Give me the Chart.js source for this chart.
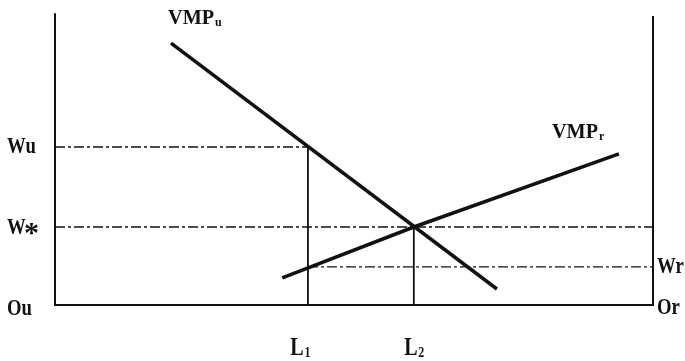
<!DOCTYPE html>
<html>
<head>
<meta charset="utf-8">
<script src="https://cdn.jsdelivr.net/npm/chart.js@4.4.1/dist/chart.umd.min.js"></script>
<style>
  html, body { margin: 0; padding: 0; background: #fff; }
  #wrap { width: 685px; height: 361px; }
</style>
</head>
<body>
<div id="wrap"><canvas id="chart" width="685" height="361"></canvas></div>
<script>
// labour market levels (arbitrary units, 0-100 between the two origins)
const wageLevels = { Wu: 54.3, Wstar: 26.8, Wr: 13.1 };
const labourLevels = { L1: 42.3, L2: 60 };

// curves
const vmpU = [
    { x: 19.4, y: 90.0 },
    { x: 73.9, y: 5.5 }
];
const vmpR = [
    { x: 38.0, y: 9.3 },
    { x: 60.0, y: 26.8 },
    { x: 94.3, y: 51.9 }
];

// frame: left axis (Ou), bottom, right axis (Or)
const frame = [
    { x: 0, y: 100.3 },
    { x: 0, y: 0 },
    { x: 100, y: 0 },
    { x: 100, y: 99.3 }
];

const dashPattern = [10, 3, 3, 3];

// helper lines
const wuLine = [{ x: 0, y: wageLevels.Wu }, { x: labourLevels.L1, y: wageLevels.Wu }];
const wStarLine = [{ x: 0, y: wageLevels.Wstar }, { x: 100, y: wageLevels.Wstar }];
const wrLine = [{ x: labourLevels.L1, y: wageLevels.Wr }, { x: 100, y: wageLevels.Wr }];
const l1Line = [{ x: labourLevels.L1, y: 0 }, { x: labourLevels.L1, y: wageLevels.Wu }];
const l2Line = [{ x: labourLevels.L2, y: 0 }, { x: labourLevels.L2, y: wageLevels.Wstar }];

function lineSet(data, width, dash) {
    return {
        data: data,
        borderColor: '#111',
        borderWidth: width,
        borderDash: dash || [],
        pointRadius: 0,
        showLine: true,
        fill: false,
        clip: false,
        tension: 0
    };
}

const FONT = "'Liberation Serif', serif";

// condensed bold label, like the original typeface
function narrowText(ctx, text, x, y, size) {
    ctx.save();
    ctx.font = 'bold ' + size + 'px ' + FONT;
    ctx.textAlign = 'left';
    ctx.textBaseline = 'middle';
    ctx.translate(x, y);
    ctx.scale(0.78, 1);
    ctx.fillText(text, 0, 0);
    ctx.restore();
}

// W* with a big centred asterisk
function wStarText(ctx, x, y) {
    narrowText(ctx, 'W', x, y, 24);
    ctx.save();
    ctx.font = 'bold 30px ' + FONT;
    ctx.textAlign = 'left';
    ctx.textBaseline = 'middle';
    ctx.fillText('*', x + 17, y + 6);
    ctx.restore();
}

// text with a small subscript
function subText(ctx, main, sub, x, y, size, weight, sx, align) {
    ctx.save();
    ctx.font = weight + ' ' + size + 'px ' + FONT;
    const w1 = ctx.measureText(main).width * sx;
    ctx.font = 'bold ' + Math.round(size * 0.6) + 'px ' + FONT;
    const w2 = ctx.measureText(sub).width * sx;
    let left = x;
    if (align === 'center') left = x - (w1 + w2) / 2;
    ctx.textAlign = 'left';
    ctx.textBaseline = 'alphabetic';
    ctx.translate(left, y);
    ctx.scale(sx, 1);
    ctx.font = weight + ' ' + size + 'px ' + FONT;
    ctx.fillText(main, 0, 0);
    ctx.font = 'bold ' + Math.round(size * 0.6) + 'px ' + FONT;
    ctx.fillText(sub, w1 / sx + 1, 2);
    ctx.restore();
}

const labelPlugin = {
    id: 'labels',
    afterDatasetsDraw(chart) {
        const ctx = chart.ctx;
        const xs = chart.scales.x;
        const ys = chart.scales.y;
        const x0 = xs.getPixelForValue(0);
        const x100 = xs.getPixelForValue(100);
        ctx.save();
        ctx.fillStyle = '#111';
        narrowText(ctx, 'Wu', x0 - 48, ys.getPixelForValue(wageLevels.Wu), 24);
        wStarText(ctx, x0 - 48, ys.getPixelForValue(wageLevels.Wstar) + 1);
        narrowText(ctx, 'Ou', x0 - 48, ys.getPixelForValue(0) + 4, 24);
        narrowText(ctx, 'Wr', x100 + 4, ys.getPixelForValue(wageLevels.Wr), 24);
        narrowText(ctx, 'Or', x100 + 4, ys.getPixelForValue(0) + 3, 24);

        const yBase = ys.getPixelForValue(0) + 50;
        subText(ctx, 'L', '1', xs.getPixelForValue(labourLevels.L1) - 8, yBase, 25, 'bold', 0.8, 'center');
        subText(ctx, 'L', '2', xs.getPixelForValue(labourLevels.L2), yBase, 25, 'bold', 0.8, 'center');

        subText(ctx, 'VMP', 'u', xs.getPixelForValue(vmpU[0].x) - 3, 24, 22, 'bold', 0.92, 'left');
        subText(ctx, 'VMP', 'r', xs.getPixelForValue(vmpR[2].x) - 67, 138, 22, 'bold', 0.92, 'left');
        ctx.restore();
    }
};

new Chart(document.getElementById('chart').getContext('2d'), {
    type: 'scatter',
    data: {
        datasets: [
            lineSet(wuLine, 1.4, dashPattern),
            lineSet(wStarLine, 1.4, dashPattern),
            lineSet(wrLine, 1.4, dashPattern),
            lineSet(l1Line, 1.8),
            lineSet(l2Line, 1.8),
            lineSet(frame, 2),
            lineSet(vmpU, 3.5),
            lineSet(vmpR, 3.5)
        ]
    },
    options: {
        responsive: false,
        animation: false,
        layout: { padding: { left: 55, right: 32, top: 14, bottom: 56 } },
        scales: {
            x: { type: 'linear', min: 0, max: 100, display: false },
            y: { type: 'linear', min: 0, max: 100, display: false }
        },
        plugins: {
            legend: { display: false },
            tooltip: { enabled: false }
        }
    },
    plugins: [labelPlugin]
});
</script>
</body>
</html>
